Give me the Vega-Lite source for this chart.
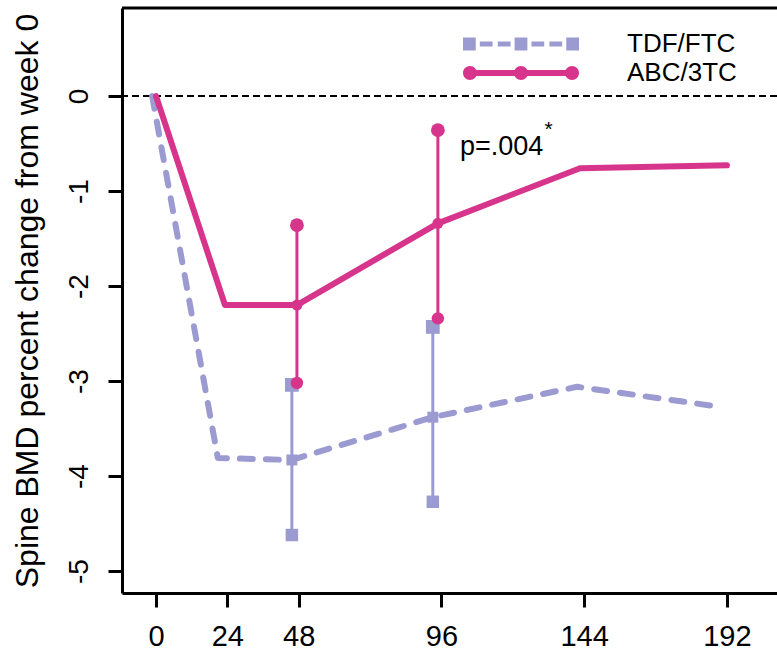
{
  "$schema": "https://vega.github.io/schema/vega-lite/v6.json",
  "width": 655,
  "height": 585,
  "autosize": {"type": "none"},
  "padding": {"left": 122, "top": 8, "right": 0, "bottom": 64},
  "background": "white",
  "config": {
    "view": {"stroke": null},
    "font": "Liberation Sans",
    "axis": {"labelFont": "Liberation Sans", "titleFont": "Liberation Sans", "labelColor": "black", "titleColor": "black", "grid": false}
  },
  "datasets": {
    "means": [
      {"series": "TDF/FTC", "week": -1.3, "bmd": 0},
      {"series": "TDF/FTC", "week": 20.8, "bmd": -3.81},
      {"series": "TDF/FTC", "week": 45.7, "bmd": -3.83},
      {"series": "TDF/FTC", "week": 93.1, "bmd": -3.38},
      {"series": "TDF/FTC", "week": 141.6, "bmd": -3.06},
      {"series": "TDF/FTC", "week": 189.5, "bmd": -3.27},
      {"series": "ABC/3TC", "week": 0, "bmd": 0},
      {"series": "ABC/3TC", "week": 23.2, "bmd": -2.2},
      {"series": "ABC/3TC", "week": 47.4, "bmd": -2.2},
      {"series": "ABC/3TC", "week": 94.8, "bmd": -1.34},
      {"series": "ABC/3TC", "week": 142.6, "bmd": -0.76},
      {"series": "ABC/3TC", "week": 192, "bmd": -0.73}
    ],
    "errors": [
      {"series": "TDF/FTC", "week": 45.7, "lo": -4.62, "hi": -3.04, "mean": -3.83},
      {"series": "TDF/FTC", "week": 93.1, "lo": -4.27, "hi": -2.43, "mean": -3.38},
      {"series": "ABC/3TC", "week": 47.4, "lo": -3.02, "hi": -1.36, "mean": -2.2},
      {"series": "ABC/3TC", "week": 94.8, "lo": -2.34, "hi": -0.36, "mean": -1.34}
    ],
    "notes": [
      {"label": "p=.004", "week": 102.2, "bmd": -0.621},
      {"label": "*", "week": 132.0, "bmd": -0.42}
    ]
  },
  "layer": [
    {
      "data": {"values": [{"level": 0}]},
      "mark": {"type": "rule", "color": "black", "strokeWidth": 2, "strokeDash": [7, 4]},
      "encoding": {"y": {"field": "level", "type": "quantitative"}}
    },
    {
      "data": {"values": [{"level": 0.926}]},
      "mark": {"type": "rule", "color": "black", "strokeWidth": 3},
      "encoding": {"y": {"field": "level", "type": "quantitative"}}
    },
    {
      "data": {"name": "errors"},
      "mark": {"type": "rule", "strokeWidth": 3},
      "encoding": {
        "x": {
          "field": "week", "type": "quantitative",
          "scale": {"domain": [-11.43, 208.85], "nice": false, "zero": false},
          "axis": {
            "values": [0, 24, 48, 96, 144, 192], "title": null,
            "domain": true, "domainColor": "black", "domainWidth": 3,
            "ticks": true, "tickSize": 14, "tickWidth": 3, "tickColor": "black",
            "labelFontSize": 29, "labelPadding": 15, "labelBaseline": "top"
          }
        },
        "y": {
          "field": "lo", "type": "quantitative",
          "scale": {"domain": [-5.23, 0.926], "nice": false, "zero": false},
          "axis": {
            "values": [-5, -4, -3, -2, -1, 0],
            "labelExpr": "toString(datum.value)",
            "title": "Spine BMD percent change from week 0",
            "titleFontSize": 32, "titleFontWeight": "normal", "titleX": -78, "titleBaseline": "bottom",
            "domain": true, "domainColor": "black", "domainWidth": 3,
            "ticks": true, "tickSize": 14, "tickWidth": 3, "tickColor": "black",
            "labelFontSize": 28, "labelAngle": 270, "labelAlign": "center", "labelBaseline": "alphabetic", "labelPadding": 21
          }
        },
        "y2": {"field": "hi"},
        "color": {
          "field": "series", "type": "nominal",
          "scale": {"domain": ["TDF/FTC", "ABC/3TC"], "range": ["#9b9bd1", "#d7358c"]},
          "legend": {
            "orient": "none", "legendX": 341, "legendY": 23, "direction": "vertical",
            "title": null, "padding": 0,
            "symbolSize": 13456, "symbolStrokeWidth": 0, "symbolOffset": 0,
            "clipHeight": 26, "rowPadding": 3,
            "labelOffset": 48, "labelFontSize": 26, "labelFont": "Liberation Sans", "labelColor": "black",
            "encode": {
              "symbols": {
                "update": {
                  "shape": {"signal": "datum.value === 'TDF/FTC' ? 'M-1,-0.11H-0.78V0.11H-1ZM-0.71,-0.045H-0.49V0.045H-0.71ZM-0.4,-0.045H-0.18V0.045H-0.4ZM-0.11,-0.11H0.11V0.11H-0.11ZM0.18,-0.045H0.4V0.045H0.18ZM0.49,-0.045H0.71V0.045H0.49ZM0.78,-0.11H1V0.11H0.78Z' : 'M-0.88,-0.05H0.88V0.05H-0.88ZM-0.76,0A0.12,0.12 0 1 1 -1,0A0.12,0.12 0 1 1 -0.76,0ZM0.12,0A0.12,0.12 0 1 1 -0.12,0A0.12,0.12 0 1 1 0.12,0ZM1,0A0.12,0.12 0 1 1 0.76,0A0.12,0.12 0 1 1 1,0Z'"},
                  "fill": {"signal": "datum.value === 'TDF/FTC' ? '#9b9bd1' : '#d7358c'"},
                  "stroke": {"value": "transparent"},
                  "opacity": {"value": 1},
                  "fillOpacity": {"value": 1}
                }
              }
            }
          }
        }
      }
    },
    {
      "data": {"name": "means"},
      "transform": [{"filter": "datum.series === 'TDF/FTC'"}],
      "mark": {"type": "line", "strokeWidth": 6, "strokeDash": [13, 13], "strokeCap": "round", "strokeJoin": "round"},
      "encoding": {
        "x": {"field": "week", "type": "quantitative"},
        "y": {"field": "bmd", "type": "quantitative"},
        "color": {"field": "series", "type": "nominal"}
      }
    },
    {
      "data": {"name": "means"},
      "transform": [{"filter": "datum.series === 'ABC/3TC'"}],
      "mark": {"type": "line", "strokeWidth": 6, "strokeCap": "round", "strokeJoin": "round"},
      "encoding": {
        "x": {"field": "week", "type": "quantitative"},
        "y": {"field": "bmd", "type": "quantitative"},
        "color": {"field": "series", "type": "nominal"}
      }
    },
    {
      "data": {"name": "errors"},
      "transform": [{"filter": "datum.series === 'TDF/FTC'"}, {"fold": ["mean", "lo", "hi"], "as": ["kind", "val"]}],
      "mark": {"type": "point", "filled": true, "opacity": 1, "shape": "square"},
      "encoding": {
        "x": {"field": "week", "type": "quantitative"},
        "y": {"field": "val", "type": "quantitative"},
        "color": {"field": "series", "type": "nominal"},
        "size": {"field": "kind", "type": "nominal", "scale": {"domain": ["mean", "lo", "hi"], "range": [120, 190, 190]}, "legend": null}
      }
    },
    {
      "data": {"name": "errors"},
      "transform": [{"filter": "datum.series === 'ABC/3TC'"}, {"fold": ["mean", "lo", "hi"], "as": ["kind", "val"]}],
      "mark": {"type": "point", "filled": true, "opacity": 1, "shape": "circle"},
      "encoding": {
        "x": {"field": "week", "type": "quantitative"},
        "y": {"field": "val", "type": "quantitative"},
        "color": {"field": "series", "type": "nominal"},
        "size": {"field": "kind", "type": "nominal", "legend": null}
      }
    },
    {
      "data": {"name": "notes"},
      "transform": [{"filter": "datum.label === 'p=.004'"}],
      "mark": {"type": "text", "fontSize": 27, "align": "left", "baseline": "alphabetic", "color": "black", "font": "Liberation Sans"},
      "encoding": {
        "x": {"field": "week", "type": "quantitative"},
        "y": {"field": "bmd", "type": "quantitative"},
        "text": {"field": "label"}
      }
    },
    {
      "data": {"name": "notes"},
      "transform": [{"filter": "datum.label === '*'"}],
      "mark": {"type": "text", "fontSize": 21, "align": "center", "baseline": "alphabetic", "color": "black", "font": "Liberation Sans"},
      "encoding": {
        "x": {"field": "week", "type": "quantitative"},
        "y": {"field": "bmd", "type": "quantitative"},
        "text": {"field": "label"}
      }
    }
  ]
}
